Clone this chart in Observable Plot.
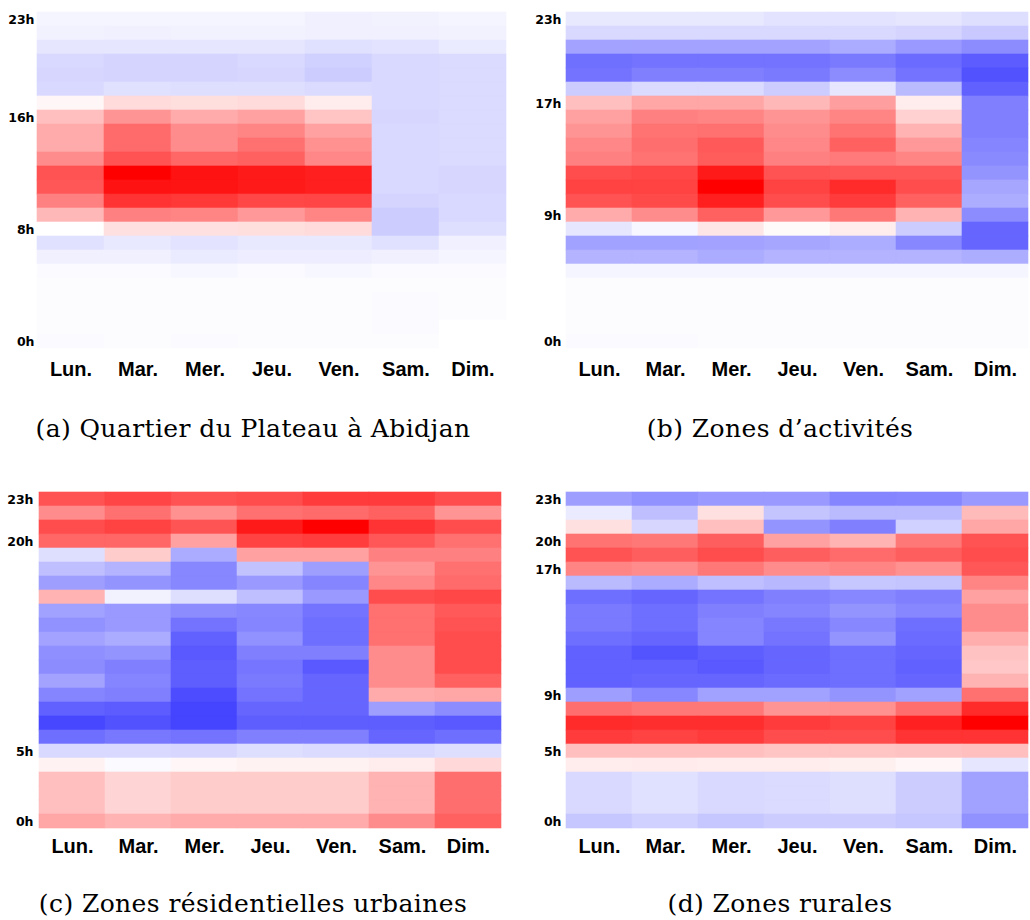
<!DOCTYPE html>
<html>
<head>
<meta charset="utf-8">
<script src="https://cdn.jsdelivr.net/npm/d3@7"></script>
<script src="https://cdn.jsdelivr.net/npm/@observablehq/plot@0.6"></script>
<style>
  html, body { margin: 0; padding: 0; background: #fff; }
  #wrap { position: relative; width: 1030px; height: 920px; overflow: hidden; }
  .panel { position: absolute; }
  .caption { position: absolute; width: 515px; text-align: center; font-family: "DejaVu Serif", serif; font-size: 25px; letter-spacing: 0.4px; line-height: 30px; color: #000; white-space: nowrap; }
</style>
</head>
<body>
<div id="wrap"></div>
<script>
// Categories
const days = ["Lun.", "Mar.", "Mer.", "Jeu.", "Ven.", "Sam.", "Dim."];
// Hours listed top to bottom (23h at top, 0h at bottom)
const hoursTopDown = [23, 22, 21, 20, 19, 18, 17, 16, 15, 14, 13, 12, 11, 10, 9, 8, 7, 6, 5, 4, 3, 2, 1, 0];

// Values in [-1, 1] (blue = below average, red = above), rows follow hoursTopDown, columns follow days
const plateauRows = [
  [-0.04, -0.04, -0.04, -0.04, -0.06, -0.05, -0.04],
  [-0.05, -0.06, -0.05, -0.05, -0.06, -0.06, -0.05],
  [-0.10, -0.10, -0.10, -0.10, -0.12, -0.11, -0.08],
  [-0.15, -0.17, -0.17, -0.15, -0.18, -0.15, -0.14],
  [-0.16, -0.17, -0.17, -0.16, -0.20, -0.15, -0.14],
  [-0.15, -0.12, -0.13, -0.13, -0.14, -0.15, -0.14],
  [0.03, 0.14, 0.13, 0.14, 0.07, -0.15, -0.14],
  [0.25, 0.42, 0.33, 0.37, 0.23, -0.16, -0.14],
  [0.33, 0.58, 0.45, 0.48, 0.37, -0.15, -0.14],
  [0.33, 0.58, 0.45, 0.56, 0.43, -0.15, -0.14],
  [0.45, 0.68, 0.60, 0.62, 0.47, -0.15, -0.14],
  [0.68, 1.00, 0.93, 0.90, 0.88, -0.15, -0.16],
  [0.66, 0.93, 0.92, 0.90, 0.88, -0.15, -0.16],
  [0.50, 0.80, 0.78, 0.72, 0.73, -0.17, -0.15],
  [0.28, 0.50, 0.48, 0.40, 0.48, -0.20, -0.15],
  [0.00, 0.12, 0.12, 0.13, 0.14, -0.20, -0.13],
  [-0.12, -0.09, -0.11, -0.09, -0.09, -0.12, -0.06],
  [-0.06, -0.06, -0.08, -0.07, -0.07, -0.06, -0.04],
  [-0.02, -0.02, -0.03, -0.02, -0.03, -0.02, -0.02],
  [-0.01, -0.01, -0.01, -0.01, -0.01, -0.01, -0.01],
  [-0.01, -0.01, -0.01, -0.01, -0.01, -0.02, -0.01],
  [-0.01, -0.01, -0.01, -0.01, -0.01, -0.02, -0.01],
  [-0.01, -0.01, -0.01, -0.01, -0.01, -0.02, 0.00],
  [-0.02, -0.01, -0.02, -0.01, -0.01, -0.01, 0.00]
];

const activitesRows = [
  [-0.09, -0.09, -0.09, -0.11, -0.11, -0.10, -0.13],
  [-0.15, -0.15, -0.15, -0.15, -0.15, -0.17, -0.21],
  [-0.36, -0.36, -0.36, -0.36, -0.33, -0.40, -0.45],
  [-0.56, -0.55, -0.55, -0.55, -0.52, -0.58, -0.64],
  [-0.55, -0.50, -0.50, -0.52, -0.45, -0.55, -0.68],
  [-0.20, -0.14, -0.14, -0.20, -0.10, -0.27, -0.62],
  [0.25, 0.35, 0.35, 0.28, 0.38, 0.07, -0.50],
  [0.37, 0.50, 0.48, 0.42, 0.48, 0.18, -0.50],
  [0.42, 0.55, 0.56, 0.45, 0.55, 0.30, -0.50],
  [0.47, 0.57, 0.65, 0.47, 0.62, 0.40, -0.48],
  [0.50, 0.55, 0.64, 0.50, 0.52, 0.48, -0.46],
  [0.70, 0.72, 0.90, 0.68, 0.66, 0.66, -0.42],
  [0.74, 0.74, 1.00, 0.74, 0.83, 0.70, -0.35],
  [0.68, 0.71, 0.88, 0.70, 0.77, 0.62, -0.32],
  [0.33, 0.45, 0.62, 0.40, 0.53, 0.30, -0.45],
  [-0.10, -0.03, 0.10, 0.02, 0.07, -0.20, -0.60],
  [-0.37, -0.37, -0.36, -0.35, -0.32, -0.47, -0.60],
  [-0.30, -0.30, -0.33, -0.30, -0.30, -0.30, -0.32],
  [-0.04, -0.04, -0.04, -0.04, -0.04, -0.04, -0.04],
  [-0.01, -0.01, -0.01, -0.01, -0.01, -0.01, -0.01],
  [-0.01, -0.01, -0.01, -0.01, -0.01, -0.01, -0.01],
  [-0.01, -0.01, -0.01, -0.01, -0.01, -0.01, -0.01],
  [-0.01, -0.01, -0.01, -0.01, -0.01, -0.01, -0.01],
  [-0.02, -0.02, -0.01, -0.01, -0.01, -0.01, -0.01]
];

const residentiellesRows = [
  [0.68, 0.73, 0.68, 0.70, 0.77, 0.77, 0.70],
  [0.45, 0.56, 0.43, 0.56, 0.58, 0.62, 0.42],
  [0.70, 0.74, 0.67, 0.90, 1.00, 0.80, 0.70],
  [0.60, 0.60, 0.37, 0.74, 0.76, 0.66, 0.56],
  [-0.13, 0.20, -0.33, 0.37, 0.37, 0.50, 0.50],
  [-0.25, -0.30, -0.47, -0.24, -0.38, 0.42, 0.56],
  [-0.38, -0.42, -0.47, -0.40, -0.48, 0.47, 0.58],
  [0.30, -0.05, -0.13, -0.25, -0.40, 0.70, 0.72],
  [-0.37, -0.40, -0.45, -0.47, -0.55, 0.56, 0.65],
  [-0.43, -0.40, -0.55, -0.48, -0.57, 0.56, 0.68],
  [-0.36, -0.33, -0.62, -0.43, -0.57, 0.56, 0.70],
  [-0.44, -0.42, -0.65, -0.50, -0.50, 0.45, 0.70],
  [-0.45, -0.50, -0.63, -0.54, -0.65, 0.45, 0.70],
  [-0.36, -0.48, -0.63, -0.52, -0.60, 0.45, 0.62],
  [-0.48, -0.50, -0.70, -0.55, -0.60, 0.33, 0.35],
  [-0.62, -0.64, -0.73, -0.60, -0.60, -0.38, -0.45],
  [-0.72, -0.68, -0.73, -0.63, -0.63, -0.63, -0.65],
  [-0.57, -0.53, -0.55, -0.50, -0.50, -0.60, -0.57],
  [-0.15, -0.15, -0.16, -0.13, -0.14, -0.15, -0.13],
  [0.05, -0.02, 0.03, 0.05, 0.05, 0.07, 0.15],
  [0.25, 0.17, 0.20, 0.20, 0.20, 0.30, 0.57],
  [0.25, 0.17, 0.20, 0.20, 0.20, 0.30, 0.57],
  [0.25, 0.17, 0.20, 0.20, 0.20, 0.30, 0.57],
  [0.35, 0.30, 0.33, 0.33, 0.33, 0.45, 0.62]
];

const ruralesRows = [
  [-0.38, -0.43, -0.40, -0.40, -0.48, -0.47, -0.40],
  [-0.08, -0.25, 0.12, -0.23, -0.27, -0.27, 0.27],
  [0.12, -0.16, 0.25, -0.42, -0.50, -0.18, 0.35],
  [0.55, 0.53, 0.63, 0.37, 0.30, 0.53, 0.68],
  [0.68, 0.63, 0.70, 0.63, 0.58, 0.63, 0.70],
  [0.48, 0.45, 0.53, 0.45, 0.48, 0.43, 0.66],
  [-0.27, -0.33, -0.25, -0.28, -0.22, -0.23, 0.48],
  [-0.57, -0.60, -0.55, -0.50, -0.47, -0.50, 0.37],
  [-0.52, -0.57, -0.50, -0.48, -0.42, -0.47, 0.45],
  [-0.52, -0.57, -0.48, -0.53, -0.47, -0.57, 0.45],
  [-0.57, -0.60, -0.48, -0.55, -0.42, -0.58, 0.32],
  [-0.62, -0.67, -0.63, -0.60, -0.57, -0.60, 0.24],
  [-0.62, -0.62, -0.65, -0.60, -0.57, -0.62, 0.22],
  [-0.62, -0.60, -0.60, -0.58, -0.57, -0.60, 0.30],
  [-0.38, -0.47, -0.37, -0.37, -0.42, -0.37, 0.56],
  [0.57, 0.53, 0.53, 0.42, 0.43, 0.57, 0.83],
  [0.83, 0.82, 0.82, 0.77, 0.74, 0.87, 1.00],
  [0.77, 0.74, 0.77, 0.70, 0.70, 0.80, 0.80],
  [0.25, 0.25, 0.25, 0.23, 0.23, 0.24, 0.25],
  [0.07, 0.08, 0.07, 0.07, 0.06, 0.03, -0.10],
  [-0.15, -0.12, -0.15, -0.14, -0.13, -0.20, -0.37],
  [-0.15, -0.12, -0.15, -0.14, -0.13, -0.20, -0.37],
  [-0.15, -0.12, -0.15, -0.14, -0.13, -0.20, -0.37],
  [-0.22, -0.18, -0.22, -0.20, -0.20, -0.22, -0.43]
];

// Y tick positions (hour row) and their printed labels
const plateauTickHours = [0, 8, 16, 23];
const plateauTickLabels = ["0h", "8h", "16h", "23h"];
const activitesTickHours = [0, 9, 17, 23];
const activitesTickLabels = ["0h", "9h", "17h", "23h"];
const residentiellesTickHours = [0, 5, 20, 23];
const residentiellesTickLabels = ["0h", "5h", "20h", "23h"];
const ruralesTickHours = [0, 5, 9, 18, 20, 23];
const ruralesTickLabels = ["0h", "5h", "9h", "17h", "20h", "23h"];

const captions = [
  "(a) Quartier du Plateau à Abidjan",
  "(b) Zones d’activités",
  "(c) Zones résidentielles urbaines",
  "(d) Zones rurales"
];

function toRecords(rows) {
  const out = [];
  rows.forEach((r, i) => r.forEach((v, j) => out.push({hour: hoursTopDown[i], day: days[j], value: v})));
  return out;
}

function heatmap(rows, tickHours, tickLabels, m) {
  const labelOf = new Map(tickHours.map((h, i) => [h, tickLabels[i]]));
  return Plot.plot({
    width: 515,
    height: m.height,
    marginLeft: m.left,
    marginRight: m.right,
    marginTop: m.top,
    marginBottom: m.bottom,
    style: {background: "white", overflow: "visible"},
    x: {domain: days, padding: 0},
    y: {domain: hoursTopDown, padding: 0},
    color: {type: "linear", domain: [-1, 0, 1], range: ["#0000ff", "#ffffff", "#ff0000"], interpolate: "rgb"},
    marks: [
      Plot.cell(toRecords(rows), {x: "day", y: "hour", fill: "value", stroke: "value", strokeWidth: 0.6, inset: 0}),
      Plot.axisX({tickSize: 0, tickPadding: m.xpad, label: null, fontSize: 20, fontWeight: "bold", fontFamily: "Liberation Sans, Arial, sans-serif", fill: "#000"}),
      Plot.axisY(tickHours, {tickSize: 0, tickPadding: 3, label: null, tickFormat: (d) => labelOf.get(d), fontSize: 12.5, fontWeight: "bold", fontFamily: "DejaVu Sans, sans-serif", fill: "#000"})
    ]
  });
}

const wrap = document.getElementById("wrap");
const panels = [
  {rows: plateauRows, th: plateauTickHours, tl: plateauTickLabels, x: 0, y: 0, m: {left: 37, right: 9, top: 10, bottom: 35, height: 385, xpad: 11}},
  {rows: activitesRows, th: activitesTickHours, tl: activitesTickLabels, x: 515, y: 0, m: {left: 49, right: 0, top: 10, bottom: 35, height: 385, xpad: 11}},
  {rows: residentiellesRows, th: residentiellesTickHours, tl: residentiellesTickLabels, x: 0, y: 477, m: {left: 36, right: 12, top: 10, bottom: 30, height: 385, xpad: 6}},
  {rows: ruralesRows, th: ruralesTickHours, tl: ruralesTickLabels, x: 515, y: 477, m: {left: 49, right: 0, top: 10, bottom: 30, height: 385, xpad: 6}}
];
panels.forEach((p) => {
  const div = document.createElement("div");
  div.className = "panel";
  div.style.left = p.x + "px";
  div.style.top = p.y + "px";
  div.appendChild(heatmap(p.rows, p.th, p.tl, p.m));
  wrap.appendChild(div);
});

const capPos = [
  {cx: 253, top: 414},
  {cx: 780, top: 414},
  {cx: 253, top: 889},
  {cx: 780, top: 889}
];
captions.forEach((t, i) => {
  const d = document.createElement("div");
  d.className = "caption";
  d.textContent = t;
  d.style.left = (capPos[i].cx - 257.5) + "px";
  d.style.top = capPos[i].top + "px";
  wrap.appendChild(d);
});
</script>
</body>
</html>
